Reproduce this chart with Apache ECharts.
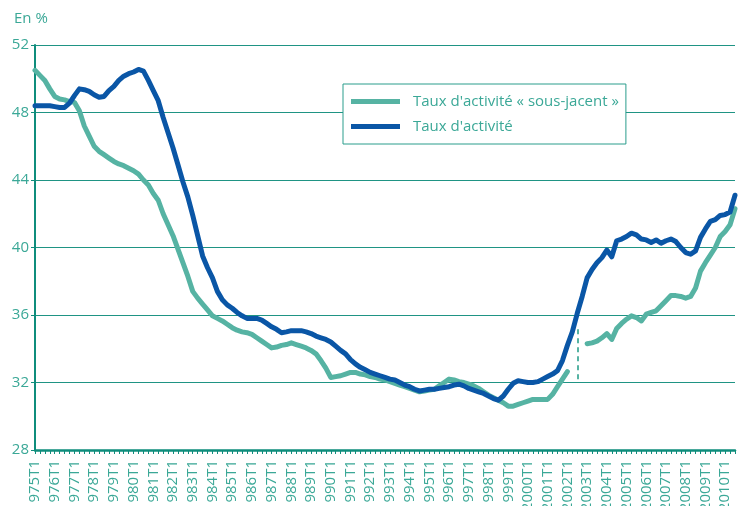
<!DOCTYPE html>
<html>
<head>
<meta charset="utf-8">
<script src="https://cdn.jsdelivr.net/npm/echarts@6/dist/echarts.min.js"></script>
<style>html,body{margin:0;padding:0;background:#fff}#c{width:738px;height:506px}</style>
</head>
<body>
<div id="c"></div>
<script>
// Quarterly categories 1975T1 .. 2010T3
const categories = [];
for (let y = 1975; y <= 2010; y++) {
  for (let q = 1; q <= 4; q++) {
    if (y === 2010 && q > 3) break;
    categories.push(y + 'T' + q);
  }
}
const yTicks = [28, 32, 36, 40, 44, 48, 52];

// Taux d'activité « sous-jacent » (gap around the 2002 break)
const sousJacent = [
  50.5, 50.2, 49.9, 49.4, 48.95, 48.8, 48.75, 48.65, 48.6, 48.1,
  47.2, 46.6, 46.0, 45.7, 45.5, 45.3, 45.1, 44.95, 44.85, 44.7,
  44.55, 44.35, 44.0, 43.7, 43.2, 42.8, 42.0, 41.35, 40.7, 39.9,
  39.1, 38.3, 37.4, 37.0, 36.65, 36.3, 35.95, 35.8, 35.65, 35.45,
  35.25, 35.1, 35.0, 34.95, 34.85, 34.65, 34.45, 34.25, 34.05, 34.1,
  34.2, 34.25, 34.35, 34.25, 34.15, 34.05, 33.9, 33.7, 33.3, 32.85,
  32.3, 32.35, 32.4, 32.5, 32.6, 32.6, 32.5, 32.45, 32.35, 32.3,
  32.2, 32.15, 32.05, 31.95, 31.85, 31.75, 31.65, 31.55, 31.45, 31.5,
  31.55, 31.6, 31.8, 32.0, 32.2, 32.15, 32.05, 32.0, 31.9, 31.8,
  31.65, 31.45, 31.25, 31.1, 30.95, 30.8, 30.6, 30.6, 30.7, 30.8,
  30.9, 31.0, 31.0, 31.0, 31.0, 31.3, 31.75, 32.2, 32.65, null,
  null, null, 34.3, 34.35, 34.45, 34.65, 34.9, 34.55, 35.2, 35.5,
  35.75, 35.95, 35.85, 35.65, 36.05, 36.15, 36.25, 36.55, 36.85, 37.15,
  37.15, 37.1, 37.0, 37.1, 37.6, 38.6, 39.1, 39.55, 40.0, 40.65,
  40.95, 41.35, 42.3
];

// Taux d'activité
const tauxActivite = [
  48.4, 48.4, 48.4, 48.4, 48.35, 48.3, 48.3, 48.55, 49.0, 49.4,
  49.35, 49.25, 49.05, 48.9, 48.95, 49.3, 49.55, 49.9, 50.15, 50.3,
  50.4, 50.55, 50.45, 49.9, 49.3, 48.7, 47.7, 46.8, 45.9, 44.9,
  43.9, 43.0, 41.9, 40.7, 39.5, 38.8, 38.2, 37.4, 36.9, 36.6,
  36.4, 36.15, 35.95, 35.8, 35.8, 35.8, 35.7, 35.5, 35.3, 35.15,
  34.95, 35.0, 35.07, 35.07, 35.07, 35.0, 34.9, 34.75, 34.65, 34.55,
  34.4, 34.15, 33.9, 33.7, 33.35, 33.1, 32.9, 32.75, 32.6, 32.5,
  32.4, 32.3, 32.2, 32.15, 32.0, 31.85, 31.75, 31.6, 31.5, 31.55,
  31.6, 31.6, 31.65, 31.7, 31.75, 31.85, 31.9, 31.8, 31.65, 31.55,
  31.45, 31.35, 31.2, 31.05, 30.95, 31.2, 31.6, 31.95, 32.1, 32.05,
  32.0, 32.0, 32.05, 32.2, 32.35, 32.5, 32.7, 33.3, 34.2, 35.0,
  36.1, 37.1, 38.2, 38.7, 39.1, 39.4, 39.85, 39.45, 40.4, 40.5,
  40.65, 40.85, 40.75, 40.5, 40.45, 40.3, 40.45, 40.25, 40.4, 40.5,
  40.35, 40.0, 39.7, 39.6, 39.8, 40.6, 41.1, 41.55, 41.65, 41.9,
  41.95, 42.1, 43.1
];

// Dashed break marker
const breakCategory = '2002T3';
const breakRange = [32.2, 35.35];

const teal = '#0f8d7c';
const labelColor = '#3ba897';
const green = '#56b3a3';
const blue = '#0a56a6';
const font = 'Open Sans';

const chart = echarts.init(document.getElementById('c'), null, {renderer: 'canvas'});
chart.setOption({
  animation: false,
  backgroundColor: '#fff',
  textStyle: {fontFamily: font},
  title: {
    text: 'En %',
    left: 9, top: 6,
    textStyle: {color: labelColor, fontSize: 15, fontWeight: 'normal', fontFamily: font}
  },
  legend: {
    orient: 'vertical',
    left: 343, top: 84,
    padding: [10, 7, 10, 8],
    itemGap: 10,
    itemWidth: 49, itemHeight: 5,
    icon: 'rect',
    borderColor: '#2a9d8c', borderWidth: 1,
    backgroundColor: '#fff',
    textStyle: {color: labelColor, fontSize: 15, fontFamily: font, padding: [0, 0, 0, 8]},
    data: ["Taux d'activité « sous-jacent »", "Taux d'activité"]
  },
  grid: {left: 35, right: 3, top: 45, bottom: 56, containLabel: false, outerBoundsMode: 'none'},
  xAxis: {
    type: 'category',
    data: categories,
    boundaryGap: false,
    axisLine: {lineStyle: {color: teal, width: 2.5}},
    axisTick: {interval: 0, length: 4, lineStyle: {color: teal, width: 1}},
    axisLabel: {
      interval: 3, rotate: 90, color: labelColor, fontSize: 15, fontFamily: font, margin: 10
    },
    splitLine: {show: false}
  },
  yAxis: {
    type: 'value',
    min: yTicks[0], max: yTicks[yTicks.length - 1], interval: 4,
    axisLine: {show: true, lineStyle: {color: teal, width: 2}},
    axisTick: {show: true, length: 4, lineStyle: {color: teal}},
    axisLabel: {color: labelColor, fontSize: 15, fontFamily: font, margin: 6},
    splitLine: {lineStyle: {color: '#1f9484', width: 1}}
  },
  series: [
    {
      name: "Taux d'activité « sous-jacent »",
      type: 'line',
      data: sousJacent,
      connectNulls: false,
      showSymbol: false, symbol: 'none',
      lineStyle: {color: green, width: 5, join: 'round', cap: 'round'},
      itemStyle: {color: green},
      markLine: {
        silent: true, symbol: 'none', label: {show: false},
        lineStyle: {color: green, width: 2, type: [5, 4]},
        data: [[{coord: [breakCategory, breakRange[0]]}, {coord: [breakCategory, breakRange[1]]}]]
      }
    },
    {
      name: "Taux d'activité",
      type: 'line',
      data: tauxActivite,
      showSymbol: false, symbol: 'none',
      lineStyle: {color: blue, width: 5, join: 'round', cap: 'round'},
      itemStyle: {color: blue}
    }
  ]
});
</script>
</body>
</html>
